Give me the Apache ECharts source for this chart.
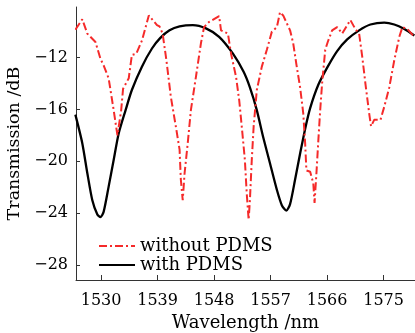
<!DOCTYPE html>
<html>
<head>
<meta charset="utf-8">
<script src="https://cdn.jsdelivr.net/npm/echarts@6/dist/echarts.min.js"></script>
<style>html,body{margin:0;padding:0;background:#fff}#c{width:415px;height:333px}</style>
</head>
<body>
<div id="c"></div>
<script>
const xTicks = [1530, 1539, 1548, 1557, 1566, 1575];
const yTicks = [-28, -24, -20, -16, -12];

const redWavelength = [1525.9,1527.0,1527.8,1529.1,1529.9,1530.4,1531.2,1532.0,1532.6,1533.2,1533.5,1534.4,1534.9,1535.6,1536.5,1537.6,1538.9,1539.3,1539.8,1540.4,1541.1,1542.0,1542.5,1542.7,1543.0,1543.3,1543.8,1544.3,1545.1,1545.9,1546.4,1547.2,1548.8,1549.1,1550.2,1550.7,1551.5,1552.0,1552.5,1552.9,1553.2,1553.5,1553.7,1554.0,1554.3,1554.8,1555.6,1556.4,1557.2,1558.0,1558.5,1559.0,1560.1,1560.6,1561.1,1561.7,1562.2,1562.5,1562.7,1563.3,1563.8,1564.0,1564.3,1564.6,1564.9,1565.2,1565.7,1566.1,1566.8,1567.6,1568.4,1569.7,1570.5,1571.1,1571.6,1572.1,1572.7,1573.0,1573.5,1574.5,1575.1,1575.9,1576.7,1577.5,1578.0,1578.8,1579.9];
const redTransmission = [-9.85,-9.05,-10.15,-10.8,-12.1,-12.6,-13.6,-16.05,-18.0,-16.05,-14.4,-13.6,-11.8,-11.7,-10.7,-8.75,-9.5,-9.6,-10.15,-12.2,-15.0,-17.6,-19.1,-21.4,-23.0,-20.9,-18.6,-16.05,-13.5,-10.9,-9.65,-9.25,-8.8,-9.9,-10.15,-11.7,-13.5,-15.3,-17.8,-19.9,-22.5,-24.5,-23.0,-19.9,-17.3,-14.5,-12.7,-11.4,-10.0,-9.65,-8.5,-8.75,-9.9,-10.9,-12.5,-14.3,-16.3,-18.6,-20.7,-20.8,-21.7,-23.2,-20.9,-18.4,-16.05,-14.0,-11.4,-10.8,-9.9,-9.65,-10.15,-9.1,-9.8,-10.15,-11.95,-14.0,-16.3,-17.3,-16.8,-16.8,-15.8,-14.3,-12.2,-10.4,-9.65,-9.8,-10.4];

const blackWavelength = [1525.9,1527.0,1527.8,1528.6,1529.4,1529.9,1530.4,1531.2,1532.0,1532.8,1533.9,1534.9,1536.5,1538.1,1539.4,1540.9,1542.5,1544.6,1546.7,1548.8,1551.0,1552.7,1553.7,1554.8,1555.8,1556.9,1558.0,1558.8,1559.5,1560.1,1560.9,1561.7,1562.5,1563.3,1564.6,1566.1,1567.6,1569.2,1571.1,1572.9,1575.1,1576.7,1578.3,1579.9];
const blackTransmission = [-16.4,-18.6,-20.9,-23.0,-24.1,-24.3,-23.9,-21.95,-19.9,-17.85,-16.05,-14.5,-12.7,-11.3,-10.5,-9.9,-9.6,-9.5,-9.75,-10.4,-11.7,-13.1,-14.3,-16.05,-18.1,-20.15,-22.2,-23.4,-23.8,-23.3,-21.4,-19.4,-17.5,-15.9,-14.1,-12.7,-11.5,-10.6,-9.9,-9.45,-9.3,-9.45,-9.8,-10.3];

const seriesNames = ['without PDMS', 'with PDMS'];
const xName = 'Wavelength /nm';
const yName = 'Transmission /dB';

const zip = (a, b) => a.map((v, i) => [v, b[i]]);
const FONT = 'DejaVu Serif';
const chart = echarts.init(document.getElementById('c'), null, {renderer: 'canvas'});
chart.setOption({
  animation: false,
  backgroundColor: '#fff',
  grid: {left: 76, right: 0, top: 7, bottom: 53, containLabel: false, outerBoundsMode: 'none'},
  legend: {
    orient: 'vertical', left: 93, top: 232,
    itemWidth: 36, itemHeight: 14, itemGap: 1,
    itemStyle: {opacity: 0},
    textStyle: {fontFamily: FONT, fontSize: 18, color: '#000'},
    data: seriesNames
  },
  xAxis: {
    type: 'value', min: 1526, max: 1580,
    name: xName, nameLocation: 'middle', nameGap: 33,
    nameTextStyle: {fontFamily: FONT, fontSize: 18, color: '#000'},
    axisLine: {show: true, lineStyle: {color: '#333', width: 1}},
    axisTick: {show: true, inside: true, length: 5, customValues: xTicks, lineStyle: {color: '#333'}},
    axisLabel: {customValues: xTicks, fontFamily: FONT, fontSize: 16, color: '#000', margin: 13,
      formatter: v => String(v)},
    splitLine: {show: false}
  },
  yAxis: {
    type: 'value', min: -29.15, max: -8.1,
    name: yName, nameLocation: 'middle', nameGap: 43,
    nameTextStyle: {fontFamily: FONT, fontSize: 17.5, color: '#000'},
    axisLine: {show: true, lineStyle: {color: '#333', width: 1}},
    axisTick: {show: true, inside: true, length: 4, customValues: yTicks, lineStyle: {color: '#333'}},
    axisLabel: {customValues: yTicks, fontFamily: FONT, fontSize: 16, color: '#000', margin: 8,
      formatter: v => (v < 0 ? '\u2212' + Math.abs(v) : String(v))},
    splitLine: {show: false}
  },
  series: [
    {
      name: seriesNames[0], type: 'line', showSymbol: false, symbol: 'none',
      data: zip(redWavelength, redTransmission),
      lineStyle: {color: '#f52a2a', width: 2, type: [8, 3, 2, 3]},
      itemStyle: {color: '#f52a2a'}, z: 3
    },
    {
      name: seriesNames[1], type: 'line', showSymbol: false, symbol: 'none', smooth: 0.25,
      data: zip(blackWavelength, blackTransmission),
      lineStyle: {color: '#000', width: 2.3},
      itemStyle: {color: '#000'}, z: 2
    }
  ]
});
</script>
</body>
</html>
